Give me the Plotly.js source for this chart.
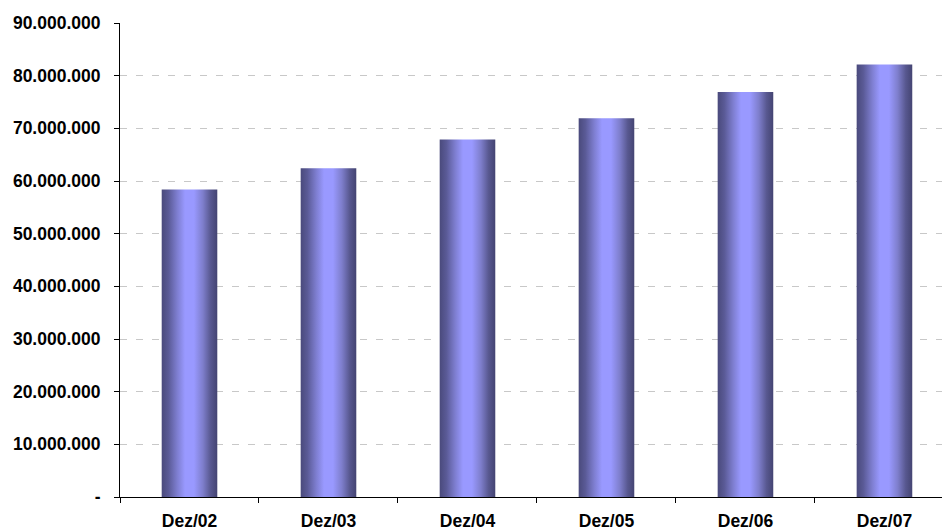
<!DOCTYPE html>
<html>
<head>
<meta charset="utf-8">
<script src="https://cdn.plot.ly/plotly-3.0.1.min.js"></script>
<style>
  html, body { margin: 0; padding: 0; background: #ffffff; }
  #chart { width: 942px; height: 530px; }
</style>
</head>
<body>
<div id="chart"></div>
<script>
// Year-end totals (December of each year)
const categories = ["Dez/02", "Dez/03", "Dez/04", "Dez/05", "Dez/06", "Dez/07"];
const totals = [58400000, 62400000, 67900000, 71900000, 76900000, 82100000];

// Y axis ticks and their printed labels
const yTickValues = [0, 10000000, 20000000, 30000000, 40000000, 50000000, 60000000, 70000000, 80000000, 90000000];
const yTickLabels = ["-", "10.000.000", "20.000.000", "30.000.000", "40.000.000", "50.000.000",
                     "60.000.000", "70.000.000", "80.000.000", "90.000.000"];

const labelFont = { family: "Liberation Sans, Arial, sans-serif", size: 17.5, color: "#000000", weight: 700 };

const trace = {
  type: "bar",
  x: categories,
  y: totals,
  marker: { color: "#9999ff", line: { width: 0 } },
  hoverinfo: "skip"
};

const layout = {
  width: 942,
  height: 530,
  margin: { l: 120, r: 0, t: 23, b: 33 },
  paper_bgcolor: "#ffffff",
  plot_bgcolor: "#ffffff",
  bargap: 0.6,
  showlegend: false,
  xaxis: {
    type: "category",
    range: [-0.5, 5.414],
    showline: true,
    linecolor: "#000000",
    linewidth: 1,
    ticks: "outside",
    tickson: "boundaries",
    ticklen: 5,
    tickcolor: "#000000",
    tickwidth: 1,
    showgrid: false,
    zeroline: false,
    tickfont: labelFont,
    ticklabelstandoff: 8
  },
  yaxis: {
    range: [0, 90000000],
    tickvals: yTickValues,
    ticktext: yTickLabels,
    showline: true,
    linecolor: "#000000",
    linewidth: 1,
    ticks: "outside",
    ticklen: 5,
    tickcolor: "#000000",
    tickwidth: 1,
    showgrid: true,
    gridcolor: "#c8c8c8",
    gridwidth: 1,
    griddash: "7px,9px",
    zeroline: false,
    tickfont: labelFont,
    ticklabelstandoff: 10
  }
};

// Cylinder-like horizontal shading for the bars
function shadeBars(gd) {
  const svg = gd.querySelector(".main-svg");
  if (!svg) return;
  let defs = svg.querySelector("defs");
  if (!defs) {
    defs = document.createElementNS("http://www.w3.org/2000/svg", "defs");
    svg.insertBefore(defs, svg.firstChild);
  }
  if (!defs.querySelector("#barShade")) {
    const ns = "http://www.w3.org/2000/svg";
    const grad = document.createElementNS(ns, "linearGradient");
    grad.setAttribute("id", "barShade");
    grad.setAttribute("x1", "0"); grad.setAttribute("y1", "0");
    grad.setAttribute("x2", "1"); grad.setAttribute("y2", "0");
    const stops = [
      [0.00, "#4a4a7c"], [0.12, "#5a5a96"], [0.28, "#7e7ed0"], [0.42, "#9999ff"],
      [0.58, "#9999ff"], [0.74, "#7e7ecc"], [0.88, "#585890"], [1.00, "#444472"]
    ];
    stops.forEach(function (s) {
      const st = document.createElementNS(ns, "stop");
      st.setAttribute("offset", s[0]);
      st.setAttribute("stop-color", s[1]);
      grad.appendChild(st);
    });
    defs.appendChild(grad);
  }
  gd.querySelectorAll(".trace.bars .point path").forEach(function (p) {
    p.style.fill = "url(#barShade)";
  });
}

const gd = document.getElementById("chart");
Plotly.newPlot(gd, [trace], layout, { staticPlot: true, displayModeBar: false }).then(function () {
  shadeBars(gd);
  gd.on("plotly_afterplot", function () { shadeBars(gd); });
});
</script>
</body>
</html>
